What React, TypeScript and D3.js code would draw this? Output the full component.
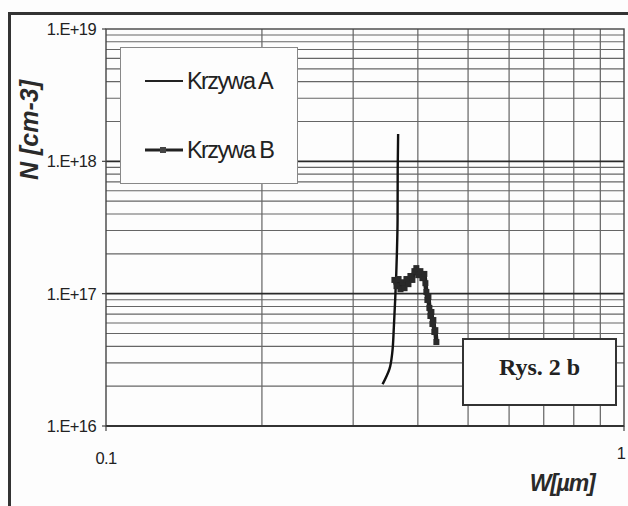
import React, { useRef, useEffect } from 'react';
import * as d3 from 'd3';

// W [um] and N [cm-3]
const curveAW = [0.342, 0.3526, 0.3569, 0.3595, 0.3618, 0.3634, 0.3644, 0.3655, 0.3657, 0.3664];
const curveAN = [2.07e16, 2.7e16, 3.56e16, 5.59e16, 9.42e16, 1.43e17, 2.03e17, 3.6e17, 8.6e17, 1.61e18];

const curveBW = [0.3604, 0.3638, 0.3671, 0.3703, 0.3736, 0.377, 0.3802, 0.3836, 0.387, 0.3904,
  0.3939, 0.3973, 0.4009, 0.4045, 0.4081, 0.4117, 0.4136, 0.4154, 0.4173, 0.4192,
  0.421, 0.4229, 0.4248, 0.4267, 0.4285, 0.4304, 0.4323, 0.4343];
const curveBN = [1.27e17, 1.14e17, 1.29e17, 1.08e17, 1.22e17, 1.1e17, 1.29e17, 1.18e17, 1.36e17, 1.27e17,
  1.48e17, 1.56e17, 1.38e17, 1.48e17, 1.31e17, 1.41e17, 1.2e17, 1.03e17, 8.96e16, 9.44e16,
  7.8e16, 6.78e16, 7.27e16, 5.9e16, 6.32e16, 5.13e16, 5.3e16, 4.31e16];

const yTickValues = [1e16, 1e17, 1e18, 1e19];
const yTickLabels = ['1.E+16', '1.E+17', '1.E+18', '1.E+19'];
const xTickValues = [0.1, 1];
const xTickLabels = ['0.1', '1'];
const legendLabels = ['Krzywa A', 'Krzywa B'];

export default function App() {
  const svgRef = useRef<SVGSVGElement>(null);

  useEffect(() => {
    if (!svgRef.current) return;
    const width = 628;
    const height = 506;
    const plot = { left: 106, right: 624, top: 29, bottom: 426 };
    const sans = 'Arial, Liberation Sans, sans-serif';

    const svg = d3.select(svgRef.current);
    svg.selectAll('*').remove();
    svg.attr('width', width).attr('height', height);

    svg.append('rect').attr('width', width).attr('height', height).attr('fill', '#fdfdfd');

    // outer frame (only left and top edges visible in the scan)
    svg.append('path')
      .attr('d', `M9.5,${height} L9.5,13.5 L${width},13.5`)
      .attr('fill', 'none').attr('stroke', '#333').attr('stroke-width', 3);

    const x = d3.scaleLog().domain([0.1, 1]).range([plot.left, plot.right]);
    const y = d3.scaleLog().domain([1e16, 1e19]).range([plot.bottom, plot.top]);

    const g = svg.append('g');

    // minor grid
    const xMinor = x.ticks().filter(t => t > 0.1 && t < 1);
    xMinor.forEach(t => {
      g.append('line')
        .attr('x1', x(t)).attr('x2', x(t))
        .attr('y1', plot.top).attr('y2', plot.bottom)
        .attr('stroke', '#555').attr('stroke-width', 1.1);
    });
    const yMinor = y.ticks().filter(t => !yTickValues.some(v => Math.abs(v - t) / v < 1e-6));
    yMinor.forEach(t => {
      g.append('line')
        .attr('x1', plot.left).attr('x2', plot.right)
        .attr('y1', y(t)).attr('y2', y(t))
        .attr('stroke', '#666').attr('stroke-width', 1.1);
    });
    // major horizontal lines
    yTickValues.slice(1, 3).forEach(t => {
      g.append('line')
        .attr('x1', plot.left).attr('x2', plot.right)
        .attr('y1', y(t)).attr('y2', y(t))
        .attr('stroke', '#2a2a2a').attr('stroke-width', 1.8);
    });

    // plot border
    g.append('rect')
      .attr('x', plot.left).attr('y', plot.top)
      .attr('width', plot.right - plot.left).attr('height', plot.bottom - plot.top)
      .attr('fill', 'none').attr('stroke', '#444').attr('stroke-width', 1.4);
    g.append('line')
      .attr('x1', plot.left).attr('x2', plot.right)
      .attr('y1', plot.bottom).attr('y2', plot.bottom)
      .attr('stroke', '#333').attr('stroke-width', 2);

    // y ticks
    yTickValues.forEach((t, i) => {
      g.append('line')
        .attr('x1', plot.left - 4).attr('x2', plot.left)
        .attr('y1', y(t)).attr('y2', y(t))
        .attr('stroke', '#444').attr('stroke-width', 1.2);
      g.append('text')
        .attr('x', plot.left - 10).attr('y', y(t))
        .attr('text-anchor', 'end').attr('dominant-baseline', 'central')
        .attr('font-family', sans)
        .attr('font-size', '16.5px').attr('letter-spacing', '-0.6')
        .attr('fill', '#222')
        .text(yTickLabels[i]);
    });

    // x ticks (the "1" sits right at the page edge)
    xTickValues.forEach((t, i) => {
      g.append('line')
        .attr('x1', x(t)).attr('x2', x(t))
        .attr('y1', plot.bottom).attr('y2', plot.bottom + 5)
        .attr('stroke', '#444').attr('stroke-width', 1.2);
      g.append('text')
        .attr('x', i === 0 ? x(t) : width - 2).attr('y', plot.bottom + 38 - (i * 5))
        .attr('text-anchor', i === 0 ? 'middle' : 'end')
        .attr('font-family', sans)
        .attr('font-size', '16.5px').attr('letter-spacing', i === 0 ? '-0.6' : '0')
        .attr('fill', '#222')
        .text(xTickLabels[i]);
    });

    // axis titles
    svg.append('text')
      .attr('transform', `translate(38,130) rotate(-90)`)
      .attr('text-anchor', 'middle')
      .attr('font-family', sans)
      .attr('font-size', '25px').attr('font-weight', 'bold').attr('font-style', 'italic')
      .attr('fill', '#2a2a2a')
      .text('N [cm-3]');
    svg.append('text')
      .attr('x', 562).attr('y', 491)
      .attr('text-anchor', 'middle')
      .attr('font-family', sans)
      .attr('font-size', '23px').attr('font-weight', 'bold').attr('font-style', 'italic')
      .attr('letter-spacing', '-1.2')
      .attr('fill', '#2a2a2a')
      .text('W[µm]');

    // curves
    const dataA = curveAW.map((w, i) => ({ w, n: curveAN[i] }));
    const dataB = curveBW.map((w, i) => ({ w, n: curveBN[i] }));
    const line = d3.line<{ w: number; n: number }>()
      .x(d => x(d.w)).y(d => y(d.n))
      .curve(d3.curveMonotoneY);
    const lineB = d3.line<{ w: number; n: number }>().x(d => x(d.w)).y(d => y(d.n));

    g.append('path').datum(dataA)
      .attr('fill', 'none').attr('stroke', '#111').attr('stroke-width', 2.4)
      .attr('stroke-linejoin', 'round')
      .attr('d', line);

    g.append('path').datum(dataB)
      .attr('fill', 'none').attr('stroke', '#222').attr('stroke-width', 4.5)
      .attr('stroke-linejoin', 'round')
      .attr('d', lineB);
    g.selectAll('rect.mb').data(dataB).enter().append('rect')
      .attr('class', 'mb')
      .attr('x', d => x(d.w) - 3).attr('y', d => y(d.n) - 3)
      .attr('width', 6).attr('height', 6)
      .attr('fill', '#2a2a2a');

    // legend
    const lg = svg.append('g');
    lg.append('rect')
      .attr('x', 120.5).attr('y', 47.5).attr('width', 177).attr('height', 136)
      .attr('fill', '#fdfdfd').attr('stroke', '#888').attr('stroke-width', 1);
    legendLabels.forEach((lab, i) => {
      const ly = 81 + i * 69;
      lg.append('line')
        .attr('x1', 145).attr('x2', 183).attr('y1', ly).attr('y2', ly)
        .attr('stroke', '#222').attr('stroke-width', i === 0 ? 1.8 : 3.2);
      if (i === 1) {
        lg.append('rect').attr('x', 160).attr('y', ly - 3).attr('width', 6).attr('height', 6)
          .attr('fill', '#444');
      }
      lg.append('text')
        .attr('x', 187).attr('y', ly)
        .attr('dominant-baseline', 'central')
        .attr('font-family', sans)
        .attr('font-size', '23.5px').attr('letter-spacing', '-1.6')
        .attr('fill', '#222')
        .text(lab);
    });

    // figure tag
    svg.append('rect')
      .attr('x', 463).attr('y', 339).attr('width', 153).attr('height', 66)
      .attr('fill', '#fdfdfd').attr('stroke', '#333').attr('stroke-width', 2);
    svg.append('text')
      .attr('x', 539.5).attr('y', 375)
      .attr('text-anchor', 'middle')
      .attr('font-family', 'Times New Roman, Liberation Serif, serif')
      .attr('font-size', '24px').attr('font-weight', 'bold')
      .attr('fill', '#222')
      .text('Rys. 2 b');
  }, []);

  return <svg ref={svgRef} style={{ position: 'absolute', left: 0, top: 0, display: 'block' }} />;
}
